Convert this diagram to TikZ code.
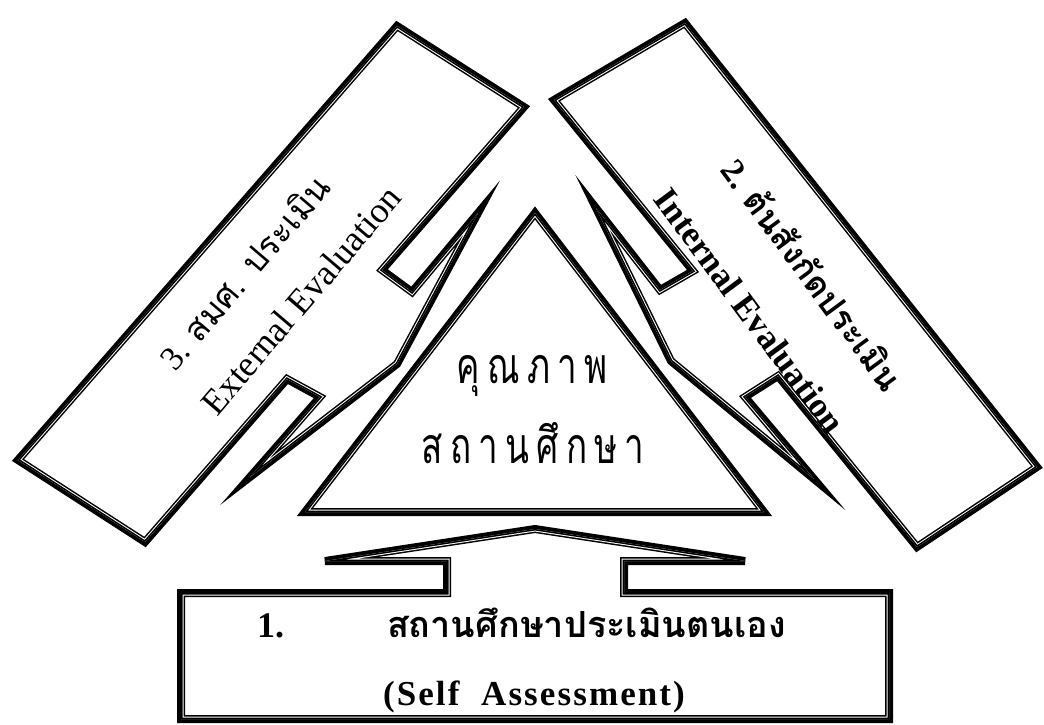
\documentclass[tikz,border=0pt]{standalone}
\usepackage{fontspec}
\setmainfont{Liberation Serif}
\newfontfamily\thai[Script=Thai]{Loma}
\newfontfamily\enspaced[LetterSpace=6]{Liberation Serif}
\newcommand\tsp{\hspace{10.3pt}}
\newcommand\dblshape[1]{%
  \draw[outerline] #1 -- cycle;
  \begin{scope}
    \clip #1 -- cycle;
    \draw[gapline] #1 -- cycle;
    \draw[innerline] #1 -- cycle;
  \end{scope}}
\tikzset{
  outerline/.style={line width=8pt, line join=miter, miter limit=12},
  gapline/.style={white, line width=5pt, line join=miter},
  innerline/.style={black, line width=3pt, line join=miter},
  lbl/.style={inner sep=0pt, outer sep=0pt, text=black}
}
\begin{document}
\begin{tikzpicture}[x=1pt,y=-1pt]
\fill[white] (0,0) rectangle (1044,724);
\useasboundingbox (0,0) rectangle (1044,724);

% central triangle
\coordinate (tA) at (535,213);
\coordinate (tB) at (305,512);
\coordinate (tC) at (764,512);

% bottom arrow (self assessment)
\coordinate (b1) at (181,719);
\coordinate (b2) at (181,593);
\coordinate (b3) at (447,593);
\coordinate (b4) at (447,561);
\coordinate (b5) at (325,561);
\coordinate (b6) at (535,529);
\coordinate (b7) at (745,561);
\coordinate (b8) at (624,561);
\coordinate (b9) at (624,593);
\coordinate (b10) at (889,593);
\coordinate (b11) at (889,719);

% left arrow (external)
\coordinate (l1) at (397,26);
\coordinate (l2) at (524,107);
\coordinate (l3) at (382,270);
\coordinate (l4) at (412,292);
\coordinate (l5) at (478,213);
\coordinate (l6) at (397,364);
\coordinate (l7) at (250,477);
\coordinate (l8) at (320,397);
\coordinate (l9) at (287,379);
\coordinate (l10) at (145,542);
\coordinate (l11) at (18,460);

% right arrow (internal)
\coordinate (r1) at (685,23);
\coordinate (r2) at (1037,467);
\coordinate (r3) at (917,547);
\coordinate (r4) at (778,376);
\coordinate (r5) at (745,397);
\coordinate (r6) at (814,479);
\coordinate (r7) at (671,361);
\coordinate (r8) at (596,208);
\coordinate (r9) at (660,290);
\coordinate (r10) at (693,271);
\coordinate (r11) at (554,100);

\dblshape{(tA) -- (tB) -- (tC)}
\dblshape{(b1) -- (b2) -- (b3) -- (b4) -- (b5) -- (b6) -- (b7) -- (b8) -- (b9) -- (b10) -- (b11)}
\dblshape{(l1) -- (l2) -- (l3) -- (l4) -- (l5) -- (l6) -- (l7) -- (l8) -- (l9) -- (l10) -- (l11)}
\dblshape{(r1) -- (r2) -- (r3) -- (r4) -- (r5) -- (r6) -- (r7) -- (r8) -- (r9) -- (r10) -- (r11)}

% triangle text
\node[lbl, anchor=base] (q1) at (532,383) {\scalebox{0.7}[1]{\fontsize{50}{60}\selectfont\thai คุ\tsp ณ\tsp ภ\tsp า\tsp พ}};
\node[lbl, anchor=base] (q2) at (533,463) {\scalebox{0.7}[1]{\fontsize{50}{60}\selectfont\thai ส\tsp ถ\tsp า\tsp น\tsp ศึ\tsp ก\tsp ษ\tsp า}};

% bottom box text
\node[lbl, anchor=base west] (s1) at (257,637) {\fontsize{36}{42}\selectfont\bfseries 1.};
\node[lbl, anchor=base west] (s2) at (387,637) {\fontsize{36}{44}\selectfont\thai\bfseries สถานศึกษาประเมินตนเอง};
\node[lbl, anchor=base] (s3) at (534,705) {\fontsize{35}{40}\selectfont\enspaced\bfseries (Self\ \ Assessment)};

% left box text
\node[lbl, rotate=49.5] (e1) at (244,272) {\fontsize{34}{40}\selectfont 3. {\thai สมศ. ประเมิน}};
\node[lbl, rotate=49.5] (e2) at (301,300) {\fontsize{36}{40}\selectfont External Evaluation};

% right box text
\node[lbl, rotate=-53.5] (i1) at (813,274) {\fontsize{34}{40}\selectfont\bfseries 2. {\thai ต้นสังกัดประเมิน}};
\node[lbl, rotate=-53.5] (i2) at (750,311) {\fontsize{35}{40}\selectfont\bfseries Internal Evaluation};
\end{tikzpicture}
\end{document}
